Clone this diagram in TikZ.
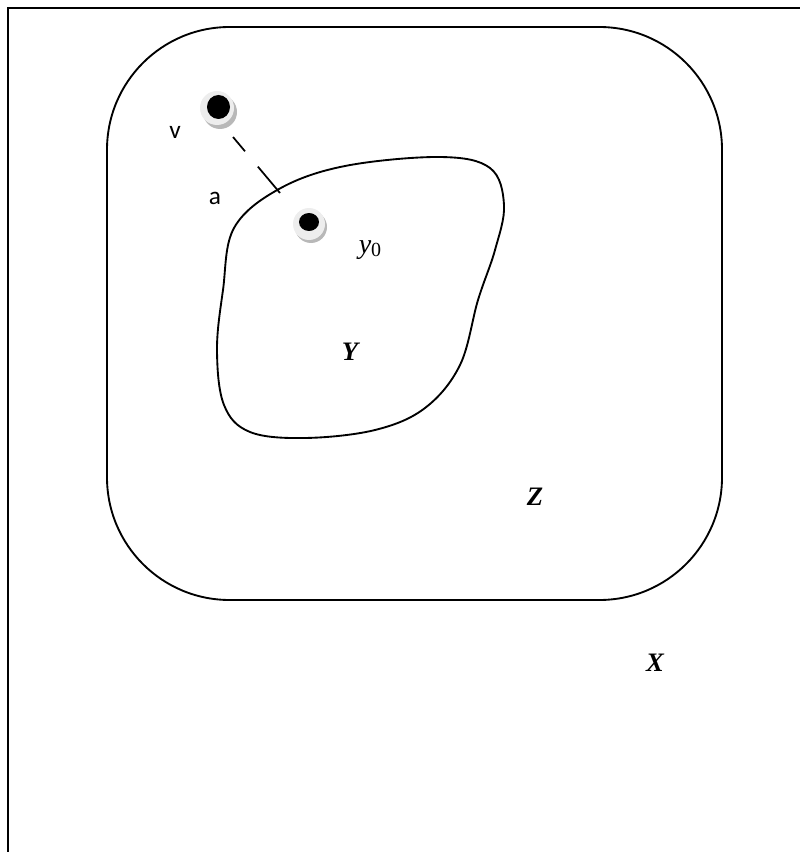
\documentclass[tikz,border=0pt]{standalone}
\usepackage{fontspec}
\setmainfont{Liberation Serif}
\newfontfamily\carlitofont{Carlito}
\begin{document}
\begin{tikzpicture}[x=0.75pt,y=-0.75pt,
  frame/.style={line width=2.2pt},
  setline/.style={line width=1.4pt},
  bigset/.style={font=\fontsize{20}{24}\selectfont\bfseries\itshape},
  sanslabel/.style={font=\carlitofont\fontsize{19}{22}\selectfont},
  shadowdisk/.style={fill=black!28},
  lightdisk/.style={fill=black!7},
  core/.style={fill=black}]
\useasboundingbox (0,0) rectangle (800,852);
% outer frame (only left and top visible)
\draw[frame] (8,852) -- (8,8) -- (800,8);
% Z rounded rectangle
\draw[setline, rounded corners=92] (107,27) rectangle (722,600);
% Y blob
\draw[setline] plot[smooth cycle, tension=0.6] coordinates {
 (279,189) (345,166) (440,157) (490,168) (504,205) (495,250)
 (478,300) (460,365) (425,408) (375,430) (305,438) (250,432)
 (224,405) (217,350) (223,290) (234,228)};
% dashed connector
\coordinate (vend) at (233,137);
\coordinate (aend) at (280,193);
\draw[line width=1.3pt, dash pattern=on 14pt off 15pt on 30pt off 15pt] (vend) -- (aend);
% point v
\fill[shadowdisk] (220,112) circle (17);
\fill[lightdisk] (217,108) circle (17);
\fill[core] (218.5,107) ellipse (11.5 and 12);
\node (v) at (217,108) {};
% point y0
\fill[shadowdisk] (311,227) circle (16);
\fill[lightdisk] (309,224) circle (16);
\fill[core] (309,222) ellipse (10 and 9);
\node (y0pt) at (309,223) {};
% labels
\node[sanslabel] (lv) at (175,132) {v};
\node[sanslabel] (la) at (215,198) {a};
\node[font=\fontsize{21}{24}\selectfont] (ly0) at (370,250) {\itshape y\raisebox{-0.25ex}{\upshape\fontsize{15}{17}\selectfont 0}};
\node[bigset] (lY) at (350,352) {Y};
\node[bigset] (lZ) at (535,497) {Z};
\node[bigset] (lX) at (655,663) {X};
\end{tikzpicture}
\end{document}
